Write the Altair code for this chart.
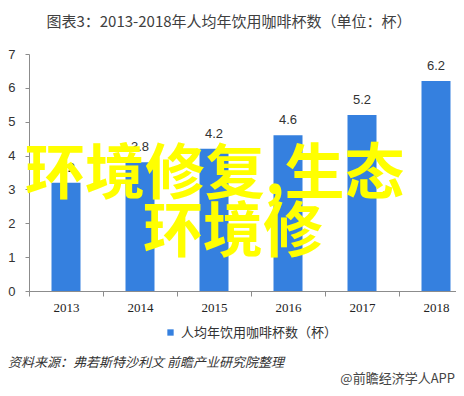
import altair as alt
import pandas as pd

years = ["2013", "2014", "2015", "2016", "2017", "2018"]
cups = [3.2, 3.8, 4.2, 4.6, 5.2, 6.2]
series_name = "人均年饮用咖啡杯数（杯）"
title_text = "图表3：2013-2018年人均年饮用咖啡杯数（单位：杯）"
source_text = "资料来源：弗若斯特沙利文 前瞻产业研究院整理"
brand_text = "@前瞻经济学人APP"
overlay_lines = ["环境修复,生态", "环境修"]
y_ticks = [0, 1, 2, 3, 4, 5, 6, 7]

BLUE = "#3580df"
AXIS_GRAY = "#8c8c8c"
TEXT = "#333333"
CJK = "Noto Sans CJK SC"

df = pd.DataFrame({"year": years, "cups": cups, "series": [series_name] * len(years)})

x_enc = alt.X(
    "year:N",
    sort=years,
    scale=alt.Scale(range=[0, 444], paddingInner=0, paddingOuter=0),
    axis=alt.Axis(
        title=None, labelAngle=0, tickBand="extent", tickSize=5,
        labelPadding=5, labelFont="Liberation Serif", labelFontSize=13,
        labelColor="#222222", domainColor=AXIS_GRAY, tickColor=AXIS_GRAY,
    ),
)
y_enc = alt.Y(
    "cups:Q",
    scale=alt.Scale(domain=[0, 7], nice=False),
    axis=alt.Axis(
        title=None, values=y_ticks, grid=False, tickSize=4, labelOverlap=False,
        labelPadding=10, labelFont="Liberation Sans", labelFontSize=13,
        labelColor=TEXT, domainColor=AXIS_GRAY, tickColor=AXIS_GRAY,
    ),
)

base = alt.Chart(df)

bars = base.mark_bar(size=29).encode(
    x=x_enc,
    y=y_enc,
    color=alt.Color(
        "series:N",
        scale=alt.Scale(range=[BLUE]),
        legend=alt.Legend(
            title=None, orient="none", legendX=135, legendY=272,
            symbolType="square", symbolSize=40, symbolStrokeWidth=0,
            labelFont=CJK, labelFontSize=13, labelColor=TEXT,
        ),
    ),
)

labels = base.mark_text(
    dy=-11, baseline="alphabetic", fontSize=13, font="Liberation Sans", color=TEXT
).encode(x=x_enc, y=y_enc, text=alt.Text("cups:Q", format=".1f"))

def note(text, xv, yv, **kw):
    return alt.Chart(pd.DataFrame({"t": [text]})).mark_text(**kw).encode(
        x=alt.value(xv), y=alt.value(yv), text="t:N"
    )

title = note(title_text, 200, -32, font=CJK, fontSize=15, color="#404040",
             align="center", baseline="middle")
source = note(source_text, -21, 309, font=CJK, fontSize=13, fontStyle="italic",
              color=TEXT, align="left", baseline="middle")
brand = note(brand_text, 426, 325, font=CJK, fontSize=13, color="#444444",
             align="right", baseline="middle")
over1 = note(overlay_lines[0], -4, 122, font=CJK, fontSize=60, fontWeight="bold",
             color="#ffff00", align="left", baseline="middle")
over2 = note(overlay_lines[1], 114, 180, font=CJK, fontSize=60, fontWeight="bold",
             color="#ffff00", align="left", baseline="middle")

chart = alt.layer(bars, labels, title, source, brand, over1, over2).properties(
    width=427,
    height=237,
    autosize=alt.AutoSizeParams(type="none"),
    padding={"left": 21, "top": 46, "right": 0, "bottom": 97},
    background="white",
).configure_view(stroke=None)

chart.save("out.html", embed_options={"renderer": "svg", "actions": False})
